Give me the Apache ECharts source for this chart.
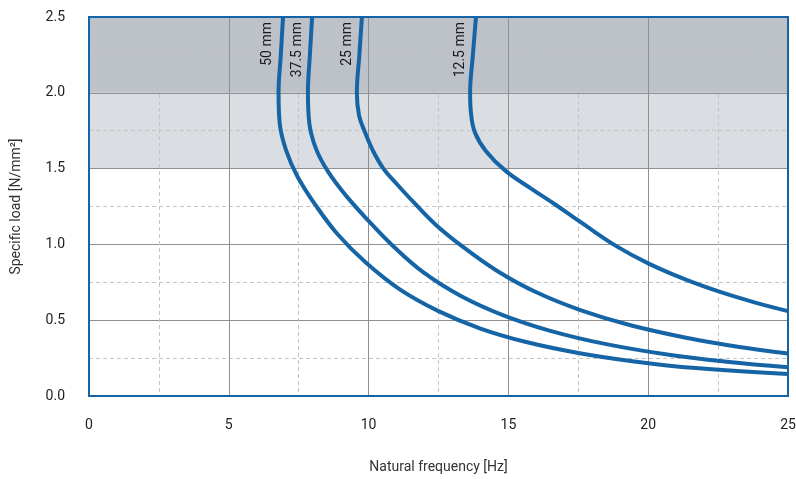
<!DOCTYPE html>
<html>
<head>
<meta charset="utf-8">
<script src="https://cdn.jsdelivr.net/npm/echarts@6/dist/echarts.min.js"></script>
<style>html,body{margin:0;padding:0;background:#fff}#c{width:796px;height:479px}</style>
</head>
<body>
<div id="c"></div>
<script>
// Data: [natural frequency Hz, specific load N/mm²]
const curve50 = [[6.94,2.5],[6.86,2.25],[6.78,2.0],[6.82,1.8],[7.05,1.62],[7.45,1.45],[8.1,1.26],[8.9,1.065],[9.9,0.88],[11.1,0.705],[12.5,0.56],[14.0,0.445],[15.6,0.358],[17.5,0.284],[19.5,0.228],[21.7,0.184],[25.0,0.145]];
const curve375 = [[7.98,2.5],[7.9,2.25],[7.83,2.0],[7.88,1.8],[8.12,1.63],[8.55,1.48],[9.2,1.32],[10.0,1.155],[10.9,0.985],[12.0,0.81],[13.3,0.66],[14.8,0.534],[16.5,0.43],[18.5,0.342],[20.8,0.27],[22.8,0.226],[25.0,0.19]];
const curve25 = [[9.76,2.5],[9.67,2.25],[9.58,2.0],[9.66,1.85],[9.87,1.74],[10.15,1.62],[10.53,1.5],[11.0,1.40],[11.6,1.28],[12.4,1.13],[13.4,0.98],[14.6,0.825],[16.0,0.684],[17.6,0.565],[19.4,0.465],[21.5,0.379],[23.2,0.325],[25.0,0.28]];
const curve125 = [[13.84,2.5],[13.73,2.25],[13.63,2.0],[13.66,1.87],[13.8,1.74],[14.2,1.615],[14.9,1.485],[15.8,1.37],[16.7,1.26],[17.6,1.145],[18.8,0.995],[20.0,0.875],[21.3,0.771],[22.6,0.685],[23.8,0.618],[25.0,0.56]];
const curveNames = ['50 mm','37.5 mm','25 mm','12.5 mm'];
const labelAnchors = [[6.40,2.467],[7.47,2.467],[9.25,2.467],[13.3,2.467]];
const bands = [[1.5,2.0,'#dadde1'],[2.0,2.5,'#bcc2c8']];
const xTicks = {min:0,max:25,interval:5};
const yTicks = {min:0,max:2.5,interval:0.5};

const curves = [curve50, curve375, curve25, curve125];
const blue = '#1565a6';
const font = 'Roboto';

const series = [{
  type:'line', data:[], z:1, silent:true,
  markArea:{silent:true, data: bands.map(b => [{yAxis:b[0], itemStyle:{color:b[2]}},{yAxis:b[1]}])}
}];
curves.forEach((c,i) => {
  series.push({
    name: curveNames[i], type:'line', data:c, smooth:0.4, showSymbol:false, z:5,
    lineStyle:{color:blue, width:4}, silent:true,
    markPoint:{
      symbol:'circle', symbolSize:0, silent:true,
      data:[{coord:labelAnchors[i], value:curveNames[i]}],
      label:{show:true, formatter:curveNames[i], rotate:90, position:'inside', align:'right', verticalAlign:'middle',
        color:'#1a1a1a', fontFamily:font, fontSize:14}
    }
  });
});

const chart = echarts.init(document.getElementById('c'));
chart.setOption({
  animation:false,
  grid:{left:89, right:8, top:17, bottom:83, show:true, borderColor:blue, borderWidth:2, z:6,
    backgroundColor:'transparent', outerBoundsMode:'none', containLabel:false},
  xAxis:{type:'value', min:xTicks.min, max:xTicks.max, interval:xTicks.interval, z:3,
    name:'Natural frequency [Hz]', nameLocation:'middle', nameGap:64,
    nameTextStyle:{color:'#333', fontFamily:font, fontSize:14},
    axisLine:{show:false}, axisTick:{show:false},
    axisLabel:{color:'#222', fontFamily:font, fontSize:14, margin:22},
    splitLine:{show:true, lineStyle:{color:'#8f8f8f', width:1}},
    minorTick:{show:false, splitNumber:2},
    minorSplitLine:{show:true, lineStyle:{color:'#c4c4c4', type:[4,3], width:1}}
  },
  yAxis:{type:'value', min:yTicks.min, max:yTicks.max, interval:yTicks.interval, z:3,
    name:'Specific load [N/mm²]', nameLocation:'middle', nameGap:66,
    nameTextStyle:{color:'#333', fontFamily:font, fontSize:14},
    axisLine:{show:false}, axisTick:{show:false},
    axisLabel:{color:'#222', fontFamily:font, fontSize:14, margin:24, formatter:v => v.toFixed(1)},
    splitLine:{show:true, lineStyle:{color:'#8f8f8f', width:1}},
    minorTick:{show:false, splitNumber:2},
    minorSplitLine:{show:true, lineStyle:{color:'#c4c4c4', type:[4,3], width:1}}
  },
  series: series
});
</script>
</body>
</html>
